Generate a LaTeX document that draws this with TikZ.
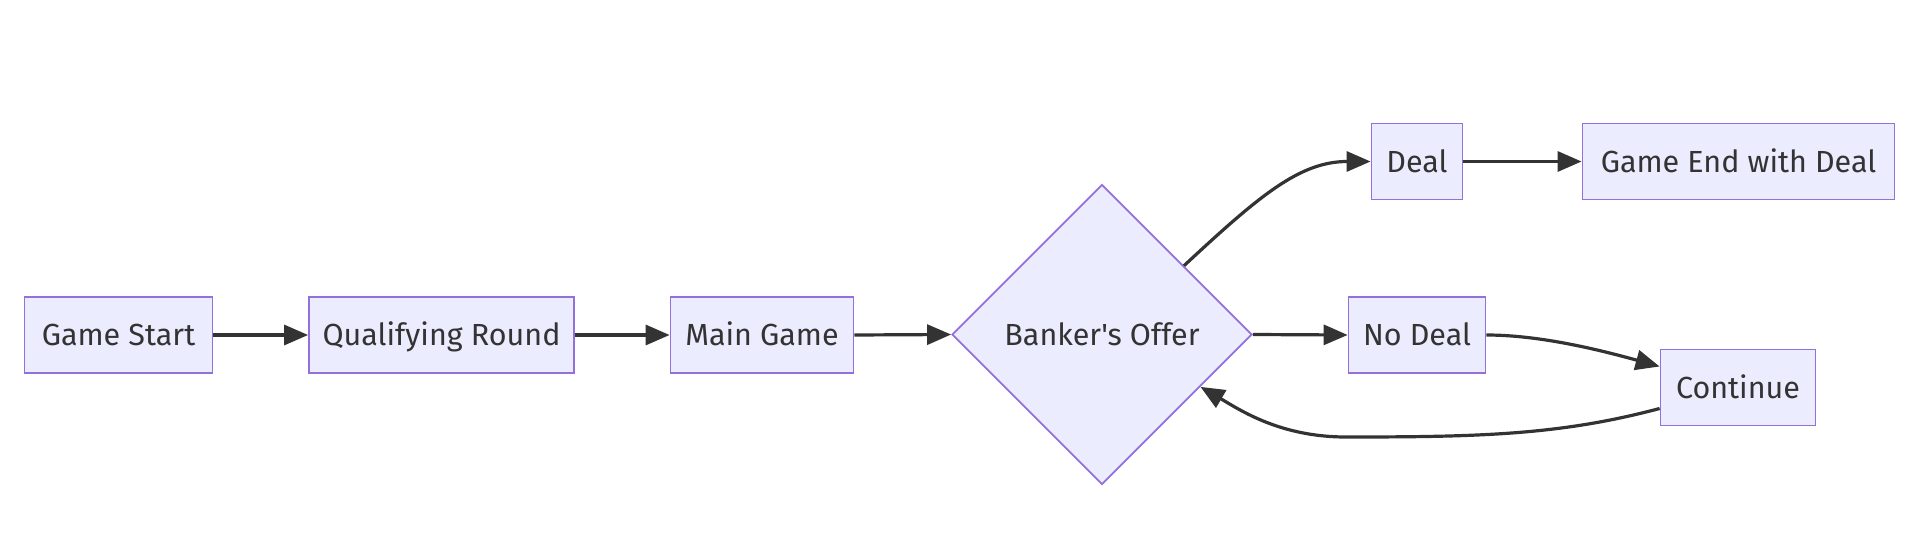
\documentclass[tikz,border=0pt]{standalone}
\usepackage{fontspec}
\setmainfont{Fira Sans}[Ligatures=TeXOff]
\usetikzlibrary{arrows.meta,shapes.geometric,calc}
\definecolor{nodefill}{HTML}{ECECFF}
\definecolor{nodeline}{HTML}{9370DB}
\definecolor{edgecol}{HTML}{333333}
\definecolor{txt}{HTML}{333333}
\begin{document}
\begin{tikzpicture}[x=1pt,y=-1pt,
  box/.style={draw=nodeline,fill=nodefill,line width=1.8pt,inner sep=0pt,minimum height=76pt,text=txt,text height=21pt,text depth=0pt,font=\fontsize{30.5}{36}\selectfont},
  decision/.style={diamond,aspect=1,draw=nodeline,fill=nodefill,line width=1.8pt,inner sep=0pt,minimum width=300pt,minimum height=300pt,text=txt,text height=21pt,text depth=0pt,font=\fontsize{30.5}{36}\selectfont},
  edge/.style={draw=edgecol,line width=3.2pt,-{Triangle[length=24pt,width=20pt]}}]
\useasboundingbox (0,0) rectangle (1919,559);
\node[box,minimum width=188pt] (gs) at (118.5,335) {Game Start};
\node[box,minimum width=265pt] (qr) at (441.5,335) {Qualifying Round};
\node[box,minimum width=183pt] (mg) at (762,335) {Main Game};
\node[decision] (bo) at (1102,334.5) {Banker's Offer};
\node[box,minimum width=91pt] (deal) at (1417,161.5) {Deal};
\node[box,minimum width=312pt] (ge) at (1738.5,161.5) {Game End with Deal};
\node[box,minimum width=137pt] (nd) at (1417,335) {No Deal};
\node[box,minimum width=155pt] (cont) at (1738,387.5) {Continue};
\draw[edge] (gs.east) -- (qr.west);
\draw[edge] (qr.east) -- (mg.west);
\draw[edge] (mg.east) -- (bo.west);
\draw[edge] (bo.40) .. controls (1260,195) and (1300,161.5) .. (deal.west);
\draw[edge] (deal.east) -- (ge.west);
\draw[edge] (bo.east) -- (nd.west);
\draw[edge] (nd.east) .. controls (1540,335) and (1600,350) .. (cont.165);
\draw[edge] (cont.195) .. controls (1560,435) and (1480,437) .. (1346,437) .. controls (1280,437) and (1240,410) .. (bo.-28);
\end{tikzpicture}
\end{document}
